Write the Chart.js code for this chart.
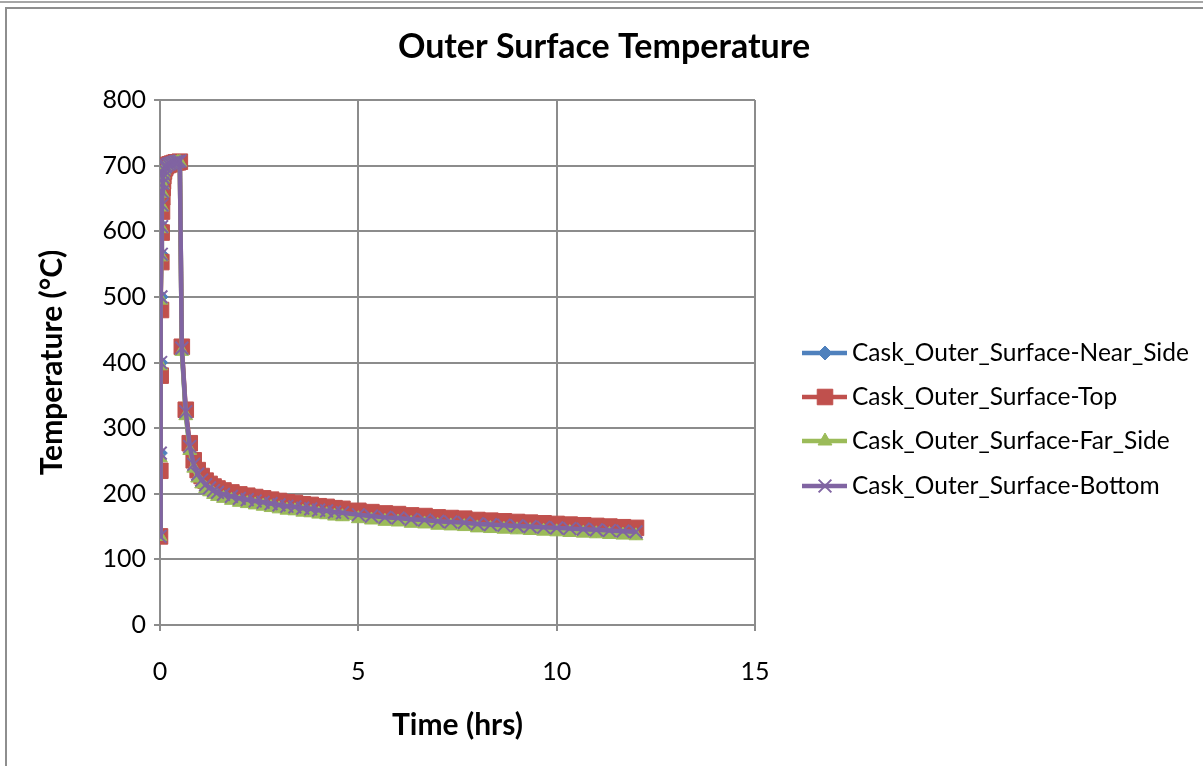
<!DOCTYPE html>
<html><head><meta charset="utf-8">
<script src="https://cdn.jsdelivr.net/npm/chart.js@4.4.1/dist/chart.umd.min.js"></script>
<style>
html,body{margin:0;padding:0;background:#fff;overflow:hidden;}
#wrap{position:relative;width:1203px;height:766px;overflow:hidden;}
#topline{position:absolute;left:0;top:1px;width:1203px;height:2px;background:#a6a6a6;}
#frame{position:absolute;left:5px;top:7px;width:1400px;height:900px;border-left:2px solid #8e8e8e;border-top:2px solid #8e8e8e;}
canvas{position:absolute;left:0;top:0;}
</style></head><body>
<div id="wrap"><div id="topline"></div><div id="frame"></div><canvas id="c" width="1203" height="766"></canvas></div>
<script>
const chartTitle = 'Outer Surface Temperature';
const xAxisTitle = 'Time (hrs)';
const yAxisTitle = 'Temperature (°C)';
const seriesNames = ['Cask_Outer_Surface-Near_Side','Cask_Outer_Surface-Top','Cask_Outer_Surface-Far_Side','Cask_Outer_Surface-Bottom'];
const xTickValues = [0, 5, 10, 15];
const yTickValues = [0, 100, 200, 300, 400, 500, 600, 700, 800];

const timeHrs = [0, 0.0083, 0.0167, 0.025, 0.0333, 0.0417, 0.05, 0.0583, 0.0667, 0.075, 0.0833, 0.1, 0.125, 0.15, 0.2, 0.25, 0.3, 0.35, 0.4, 0.45, 0.5,
  0.55, 0.65, 0.75, 0.85, 0.95, 1.05, 1.15, 1.25, 1.35, 1.45, 1.6, 1.8, 2.0, 2.2, 2.4, 2.6, 2.8, 3.0, 3.2, 3.4, 3.6, 3.8, 4.0, 4.2, 4.4, 4.6,
  5.0, 5.33, 5.67, 6.0, 6.33, 6.67, 7.0, 7.33, 7.67, 8.0, 8.33, 8.67, 9.0, 9.33, 9.67, 10.0, 10.33, 10.67, 11.0, 11.33, 11.67, 12.0];

const nearSideTemp = [135, 262, 400, 500, 565, 608, 641, 661, 673, 682, 688, 694, 698, 700, 701, 702, 703, 704, 705, 705, 706,
  420, 323, 270, 244, 229, 220, 213, 208, 204, 201, 198, 195, 192, 190, 188, 186, 184, 182, 180, 179, 177, 176, 174, 173, 171, 170,
  167, 165, 163, 162, 160, 159, 157, 156, 155, 153, 152, 151, 150, 149, 148, 147, 146, 145, 144, 143, 142, 141];

const topTemp = [135, 235, 380, 480, 553, 598, 630, 652, 666, 676, 684, 691, 696, 699, 701, 702, 703, 704, 705, 705, 706,
  424, 328, 277, 251, 236, 227, 220, 215, 211, 208, 205, 202, 199, 197, 195, 193, 191, 189, 187, 186, 184, 183, 181, 180, 178, 177,
  174, 172, 170, 169, 167, 166, 164, 163, 162, 160, 159, 158, 157, 156, 155, 154, 153, 152, 151, 150, 149, 148];

const farSideTemp = [135, 255, 395, 495, 561, 604, 637, 658, 671, 680, 687, 693, 697, 700, 701, 702, 703, 704, 704, 705, 705,
  417, 319, 266, 239, 224, 215, 208, 203, 199, 196, 193, 190, 187, 185, 183, 181, 179, 177, 175, 174, 172, 171, 169, 168, 166, 165,
  162, 160, 158, 157, 155, 154, 152, 151, 150, 148, 147, 146, 145, 144, 143, 142, 141, 140, 139, 138, 137, 136];

const bottomTemp = [135, 262, 400, 500, 565, 607, 640, 660, 673, 682, 688, 694, 698, 700, 702, 703, 704, 705, 706, 706, 707,
  422, 325, 272, 245, 230, 221, 214, 209, 205, 202, 199, 196, 193, 191, 189, 187, 185, 183, 181, 180, 178, 177, 175, 174, 172, 171,
  168, 166, 164, 163, 161, 160, 158, 157, 156, 154, 153, 152, 151, 150, 149, 148, 147, 146, 145, 144, 143, 142];

const seriesValues = [nearSideTemp, topTemp, farSideTemp, bottomTemp];
const seriesColors = ['#4F81BD', '#C0504D', '#9BBB59', '#8064A2'];
const seriesMarkers = ['rectRot', 'rect', 'triangle', 'crossRot'];
const markerRadius = [7, 11, 8, 9];
const markerBorder = [1, 1, 1, 2];
const drawOrder = [4, 3, 2, 1];

const FONT = 'Lato, "Open Sans", sans-serif';
const gridColor = '#8c8c8c';

const datasets = seriesNames.map((name, i) => ({
  label: name,
  data: timeHrs.map((t, k) => ({x: t, y: seriesValues[i][k]})),
  showLine: true,
  borderColor: seriesColors[i],
  backgroundColor: seriesColors[i],
  borderWidth: 4.5,
  pointStyle: seriesMarkers[i],
  pointRadius: markerRadius[i],
  pointHoverRadius: markerRadius[i],
  pointBorderWidth: markerBorder[i],
  pointBackgroundColor: seriesColors[i],
  pointBorderColor: seriesColors[i],
  tension: 0,
  order: drawOrder[i]
}));

const excelDecor = {
  id: 'excelDecor',
  afterDraw(chart) {
    const ctx = chart.ctx;
    ctx.save();
    // title
    ctx.fillStyle = '#000';
    ctx.font = 'bold 34px ' + FONT;
    ctx.textAlign = 'center';
    ctx.textBaseline = 'middle';
    ctx.fillText(chartTitle, 604, 47);
    // legend
    const rows = [353, 397, 441, 486];
    chart.data.datasets.forEach((ds, i) => {
      const y = rows[i];
      ctx.strokeStyle = ds.borderColor;
      ctx.lineWidth = ds.borderWidth;
      ctx.beginPath(); ctx.moveTo(802, y); ctx.lineTo(847, y); ctx.stroke();
      ctx.fillStyle = ds.pointBackgroundColor;
      ctx.strokeStyle = ds.pointBorderColor;
      ctx.lineWidth = ds.pointBorderWidth;
      Chart.helpers.drawPoint(ctx, {pointStyle: ds.pointStyle, radius: ds.pointRadius, borderWidth: ds.pointBorderWidth, rotation: 0}, 825, y);
      ctx.fillStyle = '#000';
      ctx.font = '24.5px ' + FONT;
      ctx.textAlign = 'left';
      ctx.textBaseline = 'middle';
      ctx.fillText(ds.label, 852, y);
    });
    ctx.restore();
  }
};

new Chart(document.getElementById('c'), {
  type: 'scatter',
  data: {datasets},
  plugins: [excelDecor],
  options: {
    responsive: false,
    animation: false,
    events: [],
    layout: {padding: {left: 0, right: 448, top: 100, bottom: 0}},
    plugins: {legend: {display: false}, title: {display: false}, tooltip: {enabled: false}},
    scales: {
      x: {
        type: 'linear', min: 0, max: 15,
        afterBuildTicks: s => { s.ticks = xTickValues.map(v => ({value: v})); },
        afterFit: s => { s.height = 141; },
        grid: {color: gridColor, lineWidth: 2, tickLength: 6, drawTicks: true},
        border: {color: gridColor, width: 2},
        ticks: {font: {family: FONT, size: 25}, color: '#000', padding: 26, maxRotation: 0},
        title: {display: true, text: xAxisTitle, font: {family: FONT, size: 30, weight: 'bold'}, color: '#000', padding: {top: 0, bottom: 23}}
      },
      y: {
        type: 'linear', min: 0, max: 800,
        afterBuildTicks: s => { s.ticks = yTickValues.map(v => ({value: v})); },
        afterFit: s => { s.width = 160; },
        grid: {color: gridColor, lineWidth: 2, tickLength: 6, drawTicks: true},
        border: {color: gridColor, width: 2},
        ticks: {font: {family: FONT, size: 25}, color: '#000', padding: 8},
        title: {display: true, text: yAxisTitle, font: {family: FONT, size: 30, weight: 'bold'}, color: '#000', padding: {top: 34, bottom: 0}}
      }
    }
  }
});
</script>
</body></html>
